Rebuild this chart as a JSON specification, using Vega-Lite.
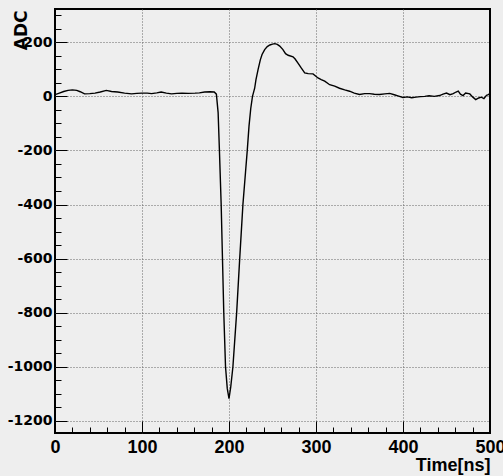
{
  "$schema": "https://vega.github.io/schema/vega-lite/v6.json",
  "width": 435,
  "height": 424,
  "autosize": "none",
  "padding": {"left": 55, "top": 9, "right": 13, "bottom": 43},
  "background": "#eeeeee",
  "config": {
    "view": {"stroke": "black", "strokeWidth": 2, "fill": "#eeeeee"}
  },
  "data": {
    "values": [
      {"t": 0, "v": 6}, {"t": 5, "v": 12}, {"t": 10, "v": 18}, {"t": 15, "v": 22}, {"t": 20, "v": 24},
      {"t": 25, "v": 22}, {"t": 29, "v": 17}, {"t": 34, "v": 9}, {"t": 40, "v": 10}, {"t": 46, "v": 12},
      {"t": 52, "v": 16}, {"t": 59, "v": 22}, {"t": 65, "v": 18}, {"t": 72, "v": 16}, {"t": 80, "v": 12},
      {"t": 88, "v": 9}, {"t": 94, "v": 11}, {"t": 100, "v": 12}, {"t": 106, "v": 12}, {"t": 111, "v": 10},
      {"t": 117, "v": 13}, {"t": 122, "v": 16}, {"t": 128, "v": 12}, {"t": 134, "v": 9}, {"t": 140, "v": 11},
      {"t": 146, "v": 12}, {"t": 153, "v": 11}, {"t": 161, "v": 12}, {"t": 166, "v": 13}, {"t": 172, "v": 16},
      {"t": 178, "v": 17}, {"t": 183, "v": 16}, {"t": 185.5, "v": 8}, {"t": 187.5, "v": -60}, {"t": 189, "v": -200},
      {"t": 191, "v": -400}, {"t": 192.5, "v": -600}, {"t": 194, "v": -800}, {"t": 196, "v": -1000}, {"t": 198, "v": -1080},
      {"t": 200, "v": -1118}, {"t": 202, "v": -1075}, {"t": 204.5, "v": -1000}, {"t": 208.8, "v": -800}, {"t": 212.3, "v": -600},
      {"t": 216, "v": -400}, {"t": 219, "v": -280}, {"t": 221, "v": -200}, {"t": 223, "v": -110}, {"t": 225, "v": -45},
      {"t": 227, "v": 0}, {"t": 229.5, "v": 30}, {"t": 231, "v": 62}, {"t": 233.4, "v": 99}, {"t": 236, "v": 135},
      {"t": 238, "v": 155}, {"t": 241, "v": 173}, {"t": 244, "v": 184}, {"t": 247, "v": 190}, {"t": 250, "v": 193},
      {"t": 252.6, "v": 195}, {"t": 255.5, "v": 192}, {"t": 258.3, "v": 186}, {"t": 262, "v": 173}, {"t": 265, "v": 158},
      {"t": 268, "v": 152}, {"t": 273.6, "v": 146}, {"t": 276, "v": 138}, {"t": 279.3, "v": 123}, {"t": 283, "v": 105},
      {"t": 287, "v": 87}, {"t": 291, "v": 84}, {"t": 296.6, "v": 83}, {"t": 302.3, "v": 68}, {"t": 306, "v": 62},
      {"t": 310, "v": 56}, {"t": 315.7, "v": 43}, {"t": 321.5, "v": 38}, {"t": 327, "v": 30}, {"t": 333, "v": 24},
      {"t": 338.6, "v": 19}, {"t": 344, "v": 12}, {"t": 350, "v": 7}, {"t": 356, "v": 10}, {"t": 361.6, "v": 10},
      {"t": 367, "v": 8}, {"t": 373, "v": 7}, {"t": 379, "v": 9}, {"t": 384.7, "v": 11}, {"t": 390, "v": 6},
      {"t": 395, "v": 1}, {"t": 400, "v": -4}, {"t": 405, "v": -2}, {"t": 410, "v": -5}, {"t": 415, "v": -3},
      {"t": 420, "v": -1}, {"t": 425, "v": 0}, {"t": 430, "v": 2}, {"t": 436, "v": 0}, {"t": 442, "v": 3},
      {"t": 446, "v": 8}, {"t": 450, "v": 12}, {"t": 454, "v": 6}, {"t": 457.7, "v": 10}, {"t": 461, "v": 16},
      {"t": 463.5, "v": 19}, {"t": 466, "v": 8}, {"t": 469, "v": 3}, {"t": 472, "v": 12}, {"t": 476.8, "v": 9},
      {"t": 480, "v": -2}, {"t": 483.6, "v": -12}, {"t": 487, "v": -6}, {"t": 490, "v": -3}, {"t": 493, "v": -8},
      {"t": 496, "v": 4}, {"t": 498, "v": 6}, {"t": 500, "v": 10}
    ]
  },
  "mark": {"type": "line", "color": "black", "strokeWidth": 1.4, "clip": true},
  "encoding": {
    "x": {
      "field": "t",
      "type": "quantitative",
      "scale": {"domain": [0, 500], "nice": false, "zero": false},
      "axis": {
        "orient": "bottom",
        "values": [0, 20, 40, 60, 80, 100, 120, 140, 160, 180, 200, 220, 240, 260, 280, 300, 320, 340, 360, 380, 400, 420, 440, 460, 480, 500],
        "labelExpr": "datum.value % 100 == 0 ? '' + datum.value : ''",
        "domain": false,
        "grid": true,
        "gridColor": "#666666",
        "gridDash": [1, 2],
        "gridWidth": 1,
        "gridOpacity": {"condition": {"test": "datum.value % 100 == 0 && datum.value > 0 && datum.value < 500", "value": 1}, "value": 0},
        "ticks": true,
        "tickColor": "black",
        "tickWidth": 1,
        "tickSize": {"condition": {"test": "datum.value % 100 == 0", "value": -12}, "value": -6},
        "labelFont": "Liberation Sans",
        "labelFontSize": 18,
        "labelFontWeight": "bold",
        "labelColor": "black",
        "labelPadding": 17,
        "labelBaseline": "top",
        "labelFlush": false,
        "labelOverlap": false,
        "title": "Time[ns]",
        "titleFont": "Liberation Sans",
        "titleFontSize": 18,
        "titleFontWeight": "bold",
        "titleColor": "black",
        "titleAnchor": "end",
        "titleAlign": "right",
        "titleBaseline": "alphabetic",
        "titleX": 435,
        "titleY": 37
      }
    },
    "y": {
      "field": "v",
      "type": "quantitative",
      "scale": {"domain": [-1245, 323], "nice": false, "zero": false},
      "axis": {
        "orient": "left",
        "values": [-1200, -1150, -1100, -1050, -1000, -950, -900, -850, -800, -750, -700, -650, -600, -550, -500, -450, -400, -350, -300, -250, -200, -150, -100, -50, 0, 50, 100, 150, 200, 250, 300],
        "labelExpr": "datum.value % 200 == 0 ? '' + datum.value : ''",
        "domain": false,
        "grid": true,
        "gridColor": "#666666",
        "gridDash": [1, 2],
        "gridWidth": 1,
        "gridOpacity": {"condition": {"test": "datum.value % 200 == 0", "value": 1}, "value": 0},
        "ticks": true,
        "tickColor": "black",
        "tickWidth": 1,
        "tickSize": {"condition": {"test": "datum.value % 200 == 0", "value": -12}, "value": -6},
        "labelFont": "DejaVu Sans",
        "labelFontSize": 14,
        "labelFontWeight": "bold",
        "labelColor": "black",
        "labelPadding": 15,
        "labelBaseline": "middle",
        "labelFlush": false,
        "labelOverlap": false,
        "title": "ADC",
        "titleFont": "DejaVu Sans",
        "titleFontSize": 17,
        "titleFontWeight": "bold",
        "titleColor": "black",
        "titleAngle": 270,
        "titleAnchor": "end",
        "titleAlign": "right",
        "titleBaseline": "alphabetic",
        "titleX": -28.5,
        "titleY": 1
      }
    }
  }
}
